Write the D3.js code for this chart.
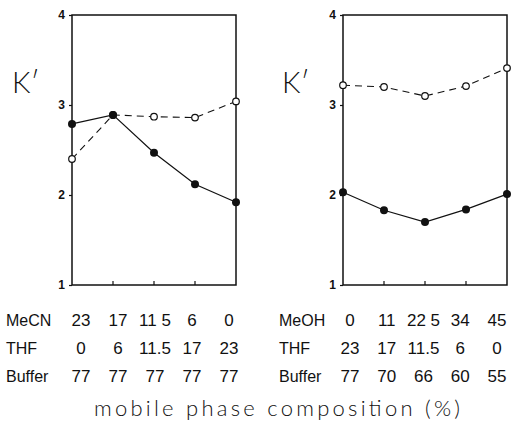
<!DOCTYPE html>
<html>
<head>
<meta charset="utf-8">
<script src="https://cdn.jsdelivr.net/npm/d3@7"></script>
<style>
  body { margin: 0; background: #fff; }
  text { font-family: "Liberation Sans", Arial, sans-serif; fill: #111; }
</style>
</head>
<body>
<div id="chart"></div>
<script>
// k' values (5 compositions each)
var leftFilled = [2.79, 2.89, 2.47, 2.12, 1.92];
var leftOpen = [2.40, 2.89, 2.87, 2.86, 3.04];
var rightFilled = [2.03, 1.83, 1.70, 1.84, 2.01];
var rightOpen = [3.22, 3.20, 3.10, 3.21, 3.41];
var yTicks = [1, 2, 3, 4];

// composition table under each panel
var leftRows = ["MeCN", "THF", "Buffer"];
var leftMeCN = ["23", "17", "11 5", "6", "0"];
var leftTHF = ["0", "6", "11.5", "17", "23"];
var leftBuffer = ["77", "77", "77", "77", "77"];
var rightRows = ["MeOH", "THF", "Buffer"];
var rightMeOH = ["0", "11", "22 5", "34", "45"];
var rightTHF = ["23", "17", "11.5", "6", "0"];
var rightBuffer = ["77", "70", "66", "60", "55"];
var xTitle = "mobile phase composition (%)";

var width = 512, height = 424;

const svg = d3.select("#chart").append("svg")
    .attr("width", width)
    .attr("height", height);

var panels = [
  { left: 72, right: 236, filled: leftFilled, open: leftOpen, rows: leftRows,
    cells: [leftMeCN, leftTHF, leftBuffer], kx: 12, nameX: 6, colL: 81, colR: 229 },
  { left: 343, right: 507, filled: rightFilled, open: rightOpen, rows: rightRows,
    cells: [rightMeOH, rightTHF, rightBuffer], kx: 282, nameX: 279, colL: 350, colR: 497 }
];

var yTop = 15, yBottom = 285;
var y = d3.scaleLinear().domain([1, 4]).range([yBottom, yTop]);
var rowY = [326, 354, 382];

panels.forEach(function(p) {
  const g = svg.append("g");
  var idx = d3.range(p.filled.length);
  var x = d3.scalePoint().domain(idx).range([p.left, p.right]);

  // frame
  g.append("rect")
    .attr("x", p.left).attr("y", yTop)
    .attr("width", p.right - p.left).attr("height", yBottom - yTop)
    .attr("fill", "none").attr("stroke", "#111").attr("stroke-width", 1.5);

  // y ticks + labels
  const yAxis = g.append("g")
    .attr("transform", `translate(${p.left},0)`)
    .call(d3.axisLeft(y).tickValues(yTicks).tickSize(3).tickPadding(4).tickFormat(d3.format("d")));
  yAxis.select(".domain").remove();
  yAxis.selectAll("line").attr("stroke", "#111").attr("stroke-width", 1.2);
  yAxis.selectAll("text")
    .style("font-family", "'Liberation Sans', Arial, sans-serif")
    .style("font-size", "12px").style("font-weight", "bold").attr("fill", "#111");

  // small inner ticks on the bottom
  g.selectAll("line.xt")
    .data(idx.slice(1, -1))
    .enter().append("line")
    .attr("class", "xt")
    .attr("x1", d => x(d)).attr("x2", d => x(d))
    .attr("y1", yBottom).attr("y2", yBottom - 4)
    .attr("stroke", "#111").attr("stroke-width", 1.2);

  // k' label
  g.append("text")
    .attr("x", p.kx).attr("y", 93)
    .style("font-family", "Lato, 'Open Sans', sans-serif")
    .style("font-weight", 300)
    .style("font-size", "29px")
    .text("K\u2032");

  const line = d3.line().x((d, i) => x(i)).y(d => y(d));

  // open series, dashed
  g.append("path")
    .datum(p.open)
    .attr("d", line)
    .attr("fill", "none").attr("stroke", "#111")
    .attr("stroke-width", 1.1).attr("stroke-dasharray", "7,5");

  // filled series, solid
  g.append("path")
    .datum(p.filled)
    .attr("d", line)
    .attr("fill", "none").attr("stroke", "#111").attr("stroke-width", 1.2);

  g.selectAll("circle.open")
    .data(p.open)
    .enter().append("circle")
    .attr("class", "open")
    .attr("cx", (d, i) => x(i)).attr("cy", d => y(d))
    .attr("r", 3.3)
    .attr("fill", "#fff").attr("stroke", "#111").attr("stroke-width", 1.2);

  g.selectAll("circle.filled")
    .data(p.filled)
    .enter().append("circle")
    .attr("class", "filled")
    .attr("cx", (d, i) => x(i)).attr("cy", d => y(d))
    .attr("r", 4)
    .attr("fill", "#111");

  // composition table
  var col = d3.scalePoint().domain(idx).range([p.colL, p.colR]);
  p.rows.forEach(function(name, r) {
    g.append("text")
      .attr("x", p.nameX)
      .attr("y", rowY[r])
      .style("font-size", "16px")
      .text(name);
    g.selectAll("text.c" + r)
      .data(p.cells[r])
      .enter().append("text")
      .attr("class", "c" + r)
      .attr("x", (d, i) => col(i))
      .attr("y", rowY[r])
      .attr("text-anchor", "middle")
      .style("font-size", "17px")
      .text(d => d);
  });
});

svg.append("text")
  .attr("x", 94).attr("y", 416)
  .attr("textLength", 366)
  .attr("lengthAdjust", "spacing")
  .style("font-family", "Lato, 'Open Sans', sans-serif")
  .style("font-weight", 300)
  .style("font-size", "22px")
  .text(xTitle);
</script>
</body>
</html>
